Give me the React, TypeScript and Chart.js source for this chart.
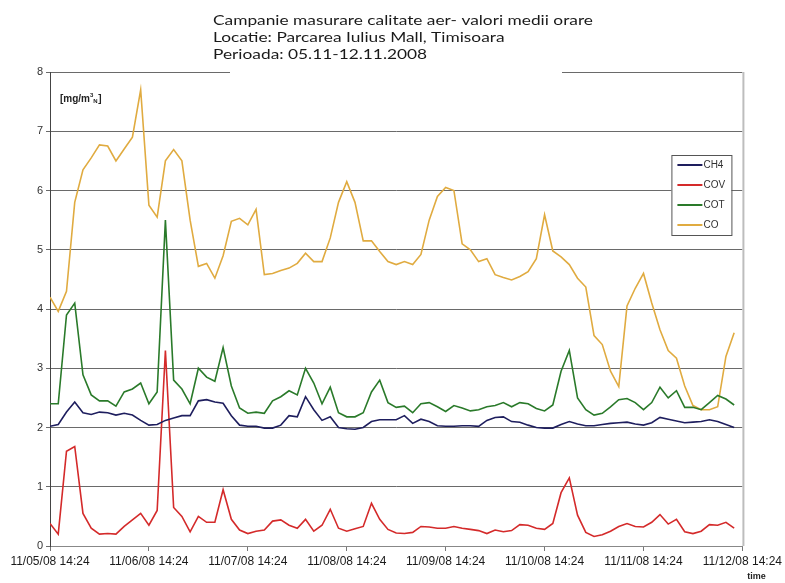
import { useEffect, useRef } from "react";
import { Chart, registerables } from "chart.js";

Chart.register(...registerables);

// ---- data ----
const STEP_HOURS = 2; // one value every 2 hours, starting 11/05/08 14:24
const TICK_HOURS = 24;
const X_MAX_HOURS = 168;

const X_TICK_LABELS = [
  "11/05/08 14:24",
  "11/06/08 14:24",
  "11/07/08 14:24",
  "11/08/08 14:24",
  "11/09/08 14:24",
  "11/10/08 14:24",
  "11/11/08 14:24",
  "11/12/08 14:24",
];

const Y_TICKS = [0, 1, 2, 3, 4, 5, 6, 7, 8];

const SERIES_NAMES = ["CH4", "COV", "COT", "CO"];

const CH4 = [
  2.02, 2.05, 2.26, 2.43, 2.25, 2.22, 2.26, 2.25, 2.21, 2.24,
  2.21, 2.12, 2.04, 2.05, 2.12, 2.16, 2.2, 2.2, 2.45, 2.47,
  2.43, 2.41, 2.2, 2.04, 2.02, 2.02, 1.99, 1.99, 2.04, 2.2,
  2.18, 2.52, 2.3, 2.12, 2.18, 2.0, 1.98, 1.97, 2.0, 2.1,
  2.13, 2.13, 2.13, 2.2, 2.07, 2.14, 2.1, 2.03, 2.02, 2.02,
  2.03, 2.03, 2.02, 2.12, 2.17, 2.18, 2.1, 2.09, 2.04, 2.0,
  1.99, 1.99, 2.05, 2.1, 2.06, 2.03, 2.03, 2.05, 2.07, 2.08,
  2.09, 2.06, 2.04, 2.08, 2.17, 2.14, 2.11, 2.08, 2.09, 2.1,
  2.13, 2.1, 2.05, 2.0,
];

const COV = [
  0.38, 0.2, 1.6, 1.68, 0.55, 0.3, 0.2, 0.21, 0.2, 0.33,
  0.44, 0.55, 0.35, 0.6, 3.3, 0.65, 0.5, 0.24, 0.5, 0.4,
  0.4, 0.95, 0.45, 0.27, 0.21, 0.25, 0.27, 0.42, 0.44, 0.35,
  0.3, 0.45, 0.25, 0.35, 0.62, 0.3, 0.25, 0.29, 0.33, 0.72,
  0.45, 0.28, 0.22, 0.21, 0.23, 0.33, 0.32, 0.3, 0.3, 0.33,
  0.3, 0.28, 0.26, 0.21, 0.27, 0.24, 0.26, 0.36, 0.35, 0.3,
  0.28, 0.38, 0.9, 1.15, 0.52, 0.23, 0.16, 0.19, 0.25, 0.33,
  0.38, 0.33, 0.32, 0.4, 0.53, 0.37, 0.45, 0.24, 0.21, 0.25,
  0.36, 0.35, 0.4, 0.3,
];

const COT = [
  2.4, 2.4, 3.9, 4.1, 2.89, 2.55, 2.45, 2.45, 2.36, 2.6,
  2.65, 2.75, 2.4, 2.6, 5.5, 2.8, 2.65, 2.4, 3.0, 2.85,
  2.78, 3.35, 2.7, 2.33, 2.24, 2.26, 2.24, 2.45, 2.52, 2.62,
  2.55, 3.0, 2.75, 2.4, 2.68, 2.25, 2.18, 2.18, 2.25, 2.6,
  2.8, 2.42, 2.34, 2.36, 2.25, 2.4, 2.42, 2.35, 2.27, 2.37,
  2.33, 2.28, 2.3, 2.35, 2.37, 2.42, 2.35, 2.42, 2.4, 2.32,
  2.28, 2.38, 2.95, 3.3, 2.5, 2.3, 2.21, 2.24, 2.35, 2.47,
  2.49, 2.42, 2.3, 2.42, 2.68, 2.5, 2.62, 2.34, 2.34, 2.3,
  2.42, 2.54, 2.48, 2.38,
];

const CO = [
  4.2, 3.96, 4.3, 5.8, 6.35, 6.55, 6.77, 6.75, 6.5, 6.7,
  6.9, 7.7, 5.75, 5.55, 6.5, 6.69, 6.5, 5.5, 4.72, 4.77,
  4.52, 4.9, 5.48, 5.53, 5.42, 5.68, 4.58, 4.6, 4.65, 4.69,
  4.77, 4.94, 4.8, 4.8, 5.2, 5.8, 6.15, 5.8, 5.15, 5.15,
  4.97, 4.8, 4.75, 4.8, 4.75, 4.92, 5.5, 5.9, 6.05, 6.0,
  5.1, 5.0, 4.8, 4.85, 4.58, 4.53, 4.49, 4.55, 4.63, 4.85,
  5.59, 4.98, 4.88, 4.75, 4.52, 4.37, 3.55, 3.4, 2.95, 2.69,
  4.05, 4.35, 4.6, 4.1, 3.65, 3.3, 3.17, 2.7, 2.37, 2.3,
  2.3, 2.35, 3.2, 3.6,
];

const SERIES_COLORS = ["#1e1e5e", "#d42a2a", "#2a7a2a", "#e0ab40"];

const TITLE_LINES = [
  "Campanie masurare calitate aer- valori medii orare",
  "Locatie: Parcarea Iulius Mall, Timisoara",
  "Perioada: 05.11-12.11.2008",
];

const UNIT_MAIN = "[mg/m";
const UNIT_SUP = "3";
const UNIT_SUB = "N";
const UNIT_END = "]";
const X_AXIS_NAME = "time";

const toPoints = (arr: number[]) =>
  arr.map((v, i) => ({ x: i * STEP_HOURS, y: v }));

const TITLE_X = 213;
const TITLE_WIDTH = 380;

const decorPlugin = {
  id: "decor",
  afterDraw(chart: any) {
    const { ctx, chartArea: a } = chart;
    ctx.save();

    // right frame line
    ctx.strokeStyle = "#bdbdbd";
    ctx.lineWidth = 2;
    ctx.beginPath();
    ctx.moveTo(a.right + 1, a.top);
    ctx.lineTo(a.right + 1, a.bottom);
    ctx.stroke();

    // title box (white background covering the top grid line)
    ctx.fillStyle = "#ffffff";
    ctx.fillRect(230, 0, 332, a.top + 4);
    ctx.fillStyle = "#1a1a1a";
    ctx.font = "14px Lato, 'Open Sans', sans-serif";
    ctx.textAlign = "left";
    ctx.textBaseline = "middle";
    const sx = TITLE_WIDTH / ctx.measureText(TITLE_LINES[0]).width;
    ctx.save();
    ctx.translate(TITLE_X, 0);
    ctx.scale(sx, 1);
    TITLE_LINES.forEach((t, i) => ctx.fillText(t, 0, 20 + i * 17.2));
    ctx.restore();

    // unit label
    const ux = a.left + 10;
    const uy = a.top + 27;
    ctx.fillStyle = "#222";
    ctx.font = "bold 10px 'Liberation Sans', Arial, sans-serif";
    ctx.textBaseline = "middle";
    ctx.fillText(UNIT_MAIN, ux, uy);
    const w = ctx.measureText(UNIT_MAIN).width;
    ctx.font = "bold 6px 'Liberation Sans', Arial, sans-serif";
    ctx.fillText(UNIT_SUP, ux + w, uy - 4);
    const w2 = ctx.measureText(UNIT_SUP).width;
    ctx.fillText(UNIT_SUB, ux + w + w2, uy + 2);
    const w3 = ctx.measureText(UNIT_SUB).width;
    ctx.font = "bold 10px 'Liberation Sans', Arial, sans-serif";
    ctx.fillText(UNIT_END, ux + w + w2 + w3 + 0.5, uy);

    // x axis name
    ctx.font = "bold 9px 'Liberation Sans', Arial, sans-serif";
    ctx.textAlign = "center";
    ctx.fillText(X_AXIS_NAME, a.right + 14, 577);

    // legend
    const bx = a.right - 71;
    const by = a.top + 83;
    const bw = 60;
    const bh = 80;
    ctx.fillStyle = "#ffffff";
    ctx.fillRect(bx, by, bw, bh);
    ctx.strokeStyle = "#555";
    ctx.lineWidth = 1;
    ctx.strokeRect(bx + 0.5, by + 0.5, bw, bh);
    ctx.font = "10px 'Liberation Sans', Arial, sans-serif";
    ctx.textAlign = "left";
    ctx.textBaseline = "middle";
    chart.data.datasets.forEach((ds: any, i: number) => {
      const ry = by + 10 + i * 20;
      ctx.strokeStyle = ds.borderColor;
      ctx.lineWidth = 2;
      ctx.beginPath();
      ctx.moveTo(bx + 6, ry);
      ctx.lineTo(bx + 31, ry);
      ctx.stroke();
      ctx.fillStyle = "#333";
      ctx.fillText(ds.label, bx + 32, ry);
    });

    ctx.restore();
  },
};

export default function App() {
  const ref = useRef<HTMLCanvasElement | null>(null);

  useEffect(() => {
    if (!ref.current) return;
    const seriesValues = [CH4, COV, COT, CO];
    const chart = new Chart(ref.current, {
      type: "line",
      data: {
        datasets: SERIES_NAMES.map((name, i) => ({
          label: name,
          data: toPoints(seriesValues[i]),
          borderColor: SERIES_COLORS[i],
          backgroundColor: SERIES_COLORS[i],
          borderWidth: 1.6,
          pointRadius: 0,
          tension: 0,
          fill: false,
        })),
      },
      options: {
        animation: false,
        responsive: true,
        maintainAspectRatio: false,
        layout: { padding: { top: 72, right: 42, left: 0, bottom: 0 } },
        plugins: {
          legend: { display: false },
          tooltip: { enabled: false },
          title: { display: false },
        },
        scales: {
          x: {
            type: "linear",
            min: 0,
            max: X_MAX_HOURS,
            afterFit: (s: any) => {
              s.height = 37;
            },
            afterBuildTicks: (s: any) => {
              s.ticks = X_TICK_LABELS.map((_, i) => ({ value: i * TICK_HOURS }));
            },
            ticks: {
              autoSkip: false,
              maxRotation: 0,
              minRotation: 0,
              padding: 3,
              color: "#1a1a1a",
              font: { family: "'Liberation Sans', Arial, sans-serif", size: 12 },
              callback: (v: any) => X_TICK_LABELS[Math.round(Number(v) / TICK_HOURS)],
            },
            grid: {
              drawOnChartArea: false,
              drawTicks: true,
              tickLength: 5,
              color: "#777",
            },
            border: { display: true, color: "#888", width: 1 },
          },
          y: {
            min: 0,
            max: 8,
            afterFit: (s: any) => {
              s.width = 50;
            },
            afterBuildTicks: (s: any) => {
              s.ticks = Y_TICKS.map((v) => ({ value: v }));
            },
            ticks: {
              padding: 3,
              color: "#333",
              font: { family: "'Liberation Sans', Arial, sans-serif", size: 11 },
            },
            grid: {
              color: "#6a6a6a",
              lineWidth: 1,
              tickLength: 4,
            },
            border: { display: true, color: "#444", width: 1 },
          },
        },
      },
      plugins: [decorPlugin],
    });
    return () => chart.destroy();
  }, []);

  return (
    <div style={{ position: "absolute", left: 0, top: 0, width: 785, height: 583, background: "#fff" }}>
      <canvas ref={ref} />
    </div>
  );
}
